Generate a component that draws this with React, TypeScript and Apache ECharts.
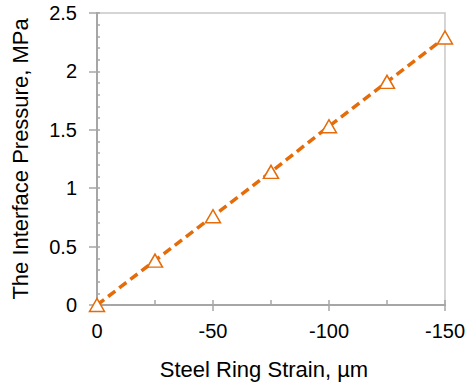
import React, { useEffect, useRef } from "react";
import * as echarts from "echarts";

const strain = [0, -25, -50, -75, -100, -125, -150];
const pressure = [0, 0.38, 0.76, 1.14, 1.53, 1.91, 2.29];
const xTitle = "Steel Ring Strain, µm";
const yTitle = "The Interface Pressure, MPa";

const ORANGE = "#E46C0A";
const AXIS = "#A6A6A6";
const FONT = "Liberation Sans";

export default function App() {
  const ref = useRef<HTMLDivElement>(null);
  useEffect(() => {
    if (!ref.current) return;
    const chart = echarts.init(ref.current, undefined, { renderer: "svg" });
    chart.setOption({
      animation: false,
      grid: {
        left: 97,
        right: 23,
        top: 13,
        bottom: 83,
        show: true,
        borderColor: "#C8C8C8",
        borderWidth: 1.5,
        containLabel: false,
      },
      xAxis: [
        {
          type: "value",
          inverse: true,
          min: -150,
          max: 0,
          interval: 50,
          position: "bottom",
          name: xTitle,
          nameLocation: "middle",
          nameGap: 53,
          nameTextStyle: { fontFamily: FONT, fontSize: 22, color: "#000", padding: [0, 14, 0, 0] },
          axisLine: { show: true, lineStyle: { color: AXIS, width: 2 } },
          axisTick: { show: true, inside: false, length: 6, lineStyle: { color: AXIS, width: 1.5 } },
          axisLabel: { fontFamily: FONT, fontSize: 20, color: "#000", margin: 16 },
          splitLine: { show: false },
        },
        {
          type: "value",
          inverse: true,
          min: -150,
          max: 0,
          interval: 25,
          position: "bottom",
          axisLine: { show: false },
          axisTick: { show: true, inside: true, length: 5, lineStyle: { color: AXIS, width: 1.5 } },
          axisLabel: { show: false },
          splitLine: { show: false },
        },
      ],
      yAxis: [
        {
          type: "value",
          min: 0,
          max: 2.5,
          interval: 0.5,
          position: "left",
          name: yTitle,
          nameLocation: "middle",
          nameGap: 66,
          nameTextStyle: { fontFamily: FONT, fontSize: 22, color: "#000" },
          axisLine: { show: true, lineStyle: { color: AXIS, width: 2 } },
          axisTick: { show: true, inside: false, length: 8, lineStyle: { color: AXIS, width: 1.5 } },
          axisLabel: { fontFamily: FONT, fontSize: 20, color: "#000", margin: 20 },
          splitLine: { show: false },
        },
        {
          type: "value",
          min: 0,
          max: 2.5,
          interval: 0.1,
          position: "left",
          offset: 0,
          axisLine: { show: false },
          axisTick: { show: true, inside: true, length: 3, lineStyle: { color: AXIS, width: 1.5 } },
          axisLabel: { show: false },
          splitLine: { show: false },
        },
      ],
      series: [
        {
          type: "line",
          xAxisIndex: 0,
          yAxisIndex: 0,
          data: strain.map((s, i) => [s, pressure[i]]),
          symbol: "triangle",
          symbolSize: [15, 13],
          showAllSymbol: true,
          lineStyle: { color: ORANGE, width: 3.5, type: [9, 5] },
          itemStyle: { color: "#FFFFFF", borderColor: ORANGE, borderWidth: 1.5 },
          z: 3,
        },
      ],
    });
    return () => chart.dispose();
  }, []);
  return (
    <div
      ref={ref}
      style={{ position: "absolute", left: 0, top: 0, width: 468, height: 388 }}
    />
  );
}
